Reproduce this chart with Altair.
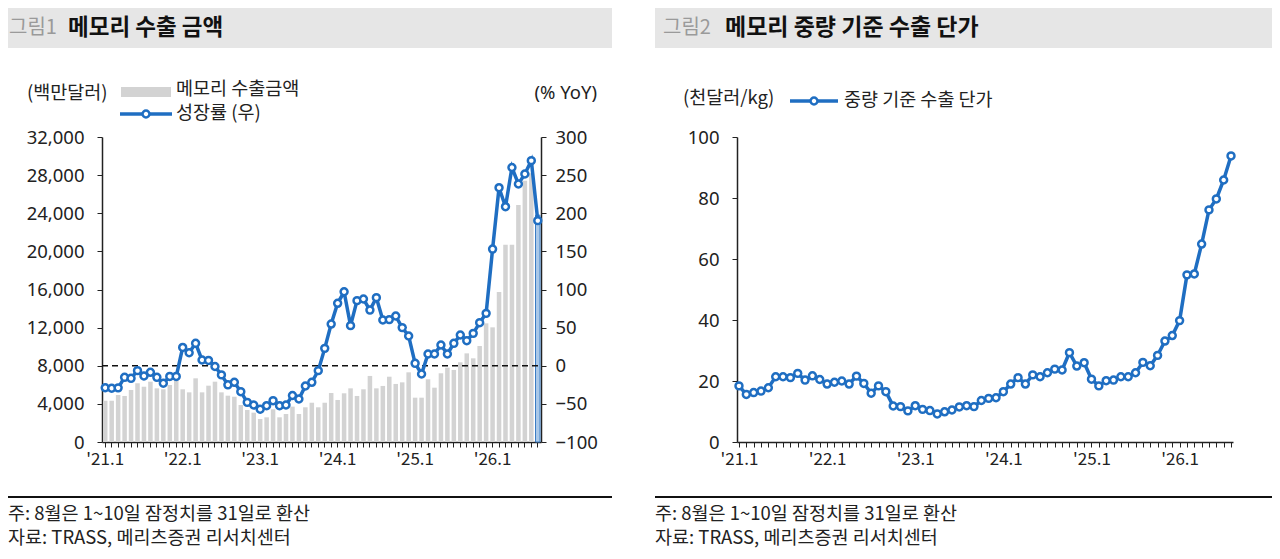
import altair as alt
import pandas as pd

FONT = "Noto Sans CJK KR"
NUM_FONT = "Noto Sans"
BLUE = "#1f6ec2"

# ---- data ----
years = ["2021", "2022", "2023", "2024", "2025", "2026"]
month_nums = ["01", "02", "03", "04", "05", "06", "07", "08", "09", "10", "11", "12"]
months = [f"{y}-{m}" for y in years for m in month_nums][:68]   # 2021.1 ~ 2026.8

# 메모리 수출금액 (백만달러)
amounts = [4330, 4330, 4930, 4830, 5460, 6160, 5800, 6330, 5630, 5530, 5980, 6510,
           5530, 5210, 6680, 5210, 5910, 6330, 5210, 4860, 4750, 3880, 3360, 3080,
           2410, 2590, 3430, 2590, 2940, 3710, 2940, 3640, 4120, 3640, 4120, 5140,
           4410, 5110, 5630, 4830, 5530, 6930, 5630, 5880, 6850, 6090, 6260, 7310,
           4650, 4650, 6580, 5700, 7210, 7800, 7560, 8360, 9300, 8780, 10070, 12450,
           12030, 15740, 20700, 20700, 24870, 27400, 28200, 23800]

# 성장률 (% YoY)
yoy = [-28.8, -29.5, -29.0, -15.2, -16.5, -6.4, -13.4, -8.6, -15.2, -23.0, -14.0, -14.0,
       24.0, 17.0, 29.4, 7.5, 7.0, -1.0, -12.0, -25.0, -21.7, -34.0, -48.0, -51.5,
       -57.0, -52.4, -45.8, -52.4, -51.5, -39.0, -43.6, -26.6, -21.7, -6.4, 22.8, 54.7,
       81.9, 97.0, 52.6, 85.4, 87.5, 73.0, 89.3, 60.0, 60.5, 65.2, 50.0, 39.0,
       3.2, -10.8, 15.4, 15.4, 27.2, 15.4, 29.4, 40.3, 32.9, 42.5, 56.5, 68.7,
       153.0, 233.5, 208.6, 260.0, 238.4, 251.5, 269.0, 190.3]

# 중량 기준 수출 단가 (천달러/kg)
price = [18.4, 15.6, 16.2, 16.7, 17.8, 21.4, 21.4, 21.1, 22.5, 20.3, 21.7, 20.5,
         19.0, 19.6, 20.0, 19.0, 21.6, 19.2, 16.0, 18.4, 16.5, 11.8, 11.6, 10.2,
         11.9, 10.7, 10.3, 9.2, 9.9, 10.5, 11.5, 11.9, 11.6, 13.6, 14.3, 14.5,
         16.5, 19.0, 21.1, 19.0, 22.0, 21.4, 22.7, 23.9, 23.6, 29.3, 24.9, 26.0,
         20.6, 18.4, 20.1, 20.3, 21.4, 21.4, 22.7, 26.1, 25.0, 28.4, 33.1, 34.9,
         39.8, 54.8, 55.1, 64.9, 76.1, 79.7, 85.9, 93.8]

kinds = ["실적"] * 67 + ["잠정"]

left_ticks = [0, 4000, 8000, 12000, 16000, 20000, 24000, 28000, 32000]
right_ticks = [-100, -50, 0, 50, 100, 150, 200, 250, 300]
price_ticks = [0, 20, 40, 60, 80, 100]

df_left = pd.DataFrame({"m": months, "amt": amounts, "yoy": yoy, "kind": kinds})
df_right = pd.DataFrame({"m": months, "price": price})
one = pd.DataFrame({"a": [0]})

LABEL_EXPR = "substring(datum.value, 5, 7) == '01' ? \"'\" + substring(datum.value, 2, 4) + '.1' : ''"

W, H = 1264, 434
Y_RANGE = [434, 129]
YLAB = dict(labelFont=NUM_FONT, labelFontSize=18.5)


def x_axis():
    return alt.Axis(orient="bottom", labelExpr=LABEL_EXPR, labelAngle=0, labelOverlap=False,
                    tickSize=5, labelPadding=4, title=None, grid=False)


left_x_scale = alt.Scale(type="band", domain=months, range=[94, 533], paddingInner=0.3, paddingOuter=0.15)

bars = alt.Chart(df_left).mark_bar().encode(
    x=alt.X("m:O", scale=left_x_scale, axis=x_axis()),
    y=alt.Y("amt:Q", scale=alt.Scale(domain=[0, 32000], range=Y_RANGE, nice=False),
            axis=alt.Axis(orient="left", offset=-94, values=left_ticks, format=",.0f", tickSize=5,
                          labelPadding=13, grid=False, title=None, **YLAB)),
    color=alt.Color("kind:N", scale=alt.Scale(domain=["실적", "잠정"], range=["#d3d3d3", "#a9c8e8"]), legend=None),
    stroke=alt.Stroke("kind:N", scale=alt.Scale(domain=["실적", "잠정"], range=["#d3d3d3", "#3a7cc3"]), legend=None),
    strokeWidth=alt.condition("datum.kind == '잠정'", alt.value(1), alt.value(0)),
)

zero_rule = alt.Chart(pd.DataFrame({"z": [0]})).mark_rule(strokeDash=[6, 4], color="#111", strokeWidth=1.5).encode(
    y=alt.Y("z:Q", scale=alt.Scale(domain=[-100, 300], range=Y_RANGE, nice=False), axis=None),
    x=alt.value(94), x2=alt.value(533),
)

POINT = alt.OverlayMarkDef(shape="circle", filled=True, fill="white", stroke=BLUE, strokeWidth=2.5, size=48)

growth = alt.Chart(df_left).mark_line(color=BLUE, strokeWidth=3.5, point=POINT).encode(
    x=alt.X("m:O", scale=left_x_scale, axis=None, bandPosition=0.5),
    y=alt.Y("yoy:Q", scale=alt.Scale(domain=[-100, 300], range=Y_RANGE, nice=False),
            axis=alt.Axis(orient="right", offset=533 - W, values=right_ticks, tickSize=5,
                          labelPadding=9, grid=False, title=None, **YLAB)),
)

unit_price = alt.Chart(df_right).mark_line(color=BLUE, strokeWidth=3.5, point=POINT).encode(
    x=alt.X("m:O", scale=alt.Scale(type="point", domain=months, range=[729, 1225], padding=0.27), axis=x_axis()),
    y=alt.Y("price:Q", scale=alt.Scale(domain=[0, 100], range=Y_RANGE, nice=False),
            axis=alt.Axis(orient="left", offset=-729, values=price_ticks, tickSize=5,
                          labelPadding=13, grid=False, title=None, **YLAB)),
)


def txt(s, x, y, size=18.5, color="#222", weight="normal", align="left", font=FONT):
    return alt.Chart(one).mark_text(text=s, align=align, baseline="middle", font=font, fontSize=size,
                                    color=color, fontWeight=weight).encode(x=alt.value(x), y=alt.value(y))


def rect(x, x2, y, y2, color):
    return alt.Chart(one).mark_rect(color=color).encode(
        x=alt.value(x), x2=alt.value(x2), y=alt.value(y), y2=alt.value(y2))


def hline(x, x2, y, color="#111", width=2.0):
    return alt.Chart(one).mark_rule(color=color, strokeWidth=width).encode(
        x=alt.value(x), x2=alt.value(x2), y=alt.value(y))


def legend_line(x, x2, y):
    ln = alt.Chart(one).mark_rule(color=BLUE, strokeWidth=3.5).encode(
        x=alt.value(x), x2=alt.value(x2), y=alt.value(y))
    pt = alt.Chart(one).mark_point(shape="circle", filled=True, fill="white", stroke=BLUE,
                                   strokeWidth=2.5, size=48, opacity=1).encode(
        x=alt.value((x + x2) / 2), y=alt.value(y))
    return [ln, pt]


deco = [
    # headers
    rect(0, 604, 0, 40, "#e6e6e6"),
    rect(647, 1264, 0, 40, "#e6e6e6"),
    txt("그림1", 1, 20, size=20, color="#9a9a9a"),
    txt("메모리 수출 금액", 60, 20, size=22.5, color="#111", weight="bold"),
    txt("그림2", 655, 20, size=20, color="#9a9a9a"),
    txt("메모리 중량 기준 수출 단가", 717, 20, size=23, color="#111", weight="bold"),
    # left panel legend & units
    txt("(백만달러)", 19, 85),
    rect(113, 163, 79, 89, "#d3d3d3"),
    txt("메모리 수출금액", 168, 81),
    *legend_line(112, 164, 106),
    txt("성장률 (우)", 168, 105),
    txt("(% YoY)", 589, 85, align="right", font=NUM_FONT),
    # right panel legend & units
    txt("(천달러/kg)", 675, 90),
    *legend_line(782, 830, 93),
    txt("중량 기준 수출 단가", 836, 92),
    # footers
    hline(0, 604, 489),
    hline(647, 1264, 489),
    txt("주: 8월은 1~10일 잠정치를 31일로 환산", 0, 506),
    txt("자료: TRASS, 메리츠증권 리서치센터", 0, 530),
    txt("주: 8월은 1~10일 잠정치를 31일로 환산", 647, 506),
    txt("자료: TRASS, 메리츠증권 리서치센터", 647, 530),
]

chart = alt.layer(bars, zero_rule, growth, unit_price, *deco).resolve_scale(
    x="independent", y="independent", color="independent", stroke="independent"
).resolve_axis(
    x="independent", y="independent"
).properties(
    width=W, height=H,
    autosize=alt.AutoSizeParams(type="none"),
    padding={"left": 0, "top": 0, "right": 0, "bottom": 109},
).configure_view(
    stroke=None
).configure_axis(
    labelFont=FONT, labelFontSize=17, labelColor="#222",
    domainColor="#222", domainWidth=1.5, tickColor="#222", tickWidth=1,
)

chart.save("out.html", embed_options={"renderer": "svg", "actions": False})
